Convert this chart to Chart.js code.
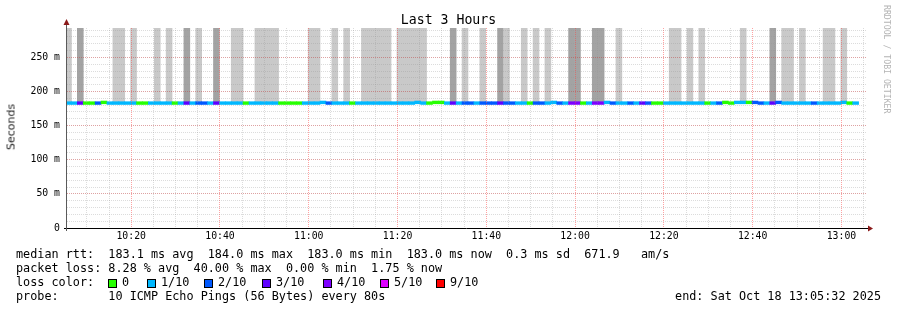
<!DOCTYPE html>
<html>
<head>
<meta charset="utf-8">
<script src="https://cdn.jsdelivr.net/npm/chart.js@4"></script>
<style>
  body { margin: 0; background: #fff; }
  #wrap { position: relative; width: 897px; height: 310px; overflow: hidden; font-family: "DejaVu Sans Mono", monospace; color: #000; }
  canvas { position: absolute; left: 0; top: 0; }
  .t { position: absolute; white-space: pre; }
  .leg { font-size: 11.8px; line-height: 14px; left: 16px; }
  .box { position: absolute; top: 279px; width: 7px; height: 7px; border: 1px solid #000; }
</style>
</head>
<body>
<div id="wrap">
  <canvas id="chart" width="897" height="310"></canvas>
  <div class="t" style="left:0;width:897px;text-align:center;top:12px;font-size:13.2px;line-height:16px">Last 3 Hours</div>
  <div class="t" style="left:11px;top:127px;transform:translate(-50%,-50%) rotate(-90deg);font-family:'DejaVu Sans',sans-serif;font-size:11px;line-height:13px;color:#222">Seconds</div>
  <div class="t" style="left:882px;top:5px;writing-mode:vertical-rl;font-size:8.2px;line-height:10px;color:#b4b4b4">RRDTOOL / TOBI OETIKER</div>
  <div class="t leg" id="rtt" style="top:247px"></div>
  <div class="t leg" id="loss" style="top:261px"></div>
  <div class="t leg" style="top:275px">loss color:</div>
  <div id="colors"></div>
  <div class="t leg" id="probe" style="top:289px"></div>
  <div class="t leg" id="end" style="top:289px;left:auto;right:16px"></div>
</div>
<script>
// time window of the graph and the sample grid
const windowStart = '10:05:32';
const windowEnd = '13:05:32';
const firstSample = '10:05:52';
const stepSec = 80;

const timeLabels = ['10:20', '10:40', '11:00', '11:20', '11:40', '12:00', '12:20', '12:40', '13:00'];
const yLabels = ['0', '50 m', '100 m', '150 m', '200 m', '250 m'];

// median rtt per sample (ms)
const medianMs = [
  183, 183, 183, 183, 183, 183, 184, 183, 183, 183,
  183, 183, 183, 183, 183, 183, 183, 183, 183, 183,
  183, 183, 183, 183, 183, 183, 183, 183, 183, 183,
  183, 183, 183, 183, 183, 183, 183, 183, 183, 183,
  183, 183, 183, 184, 183, 183, 183, 183, 183, 183,
  183, 183, 183, 183, 183, 183, 183, 183, 183, 184,
  183, 183, 184, 184, 183, 183, 183, 183, 183, 183,
  183, 183, 183, 183, 183, 183, 183, 183, 183, 183,
  183, 183, 184, 183, 183, 183, 183, 183, 183, 183,
  183, 184, 183, 183, 183, 183, 183, 183, 183, 183,
  183, 183, 183, 183, 183, 183, 183, 183, 183, 183,
  183, 184, 183, 184, 184, 184, 184, 183, 183, 183,
  184, 183, 183, 183, 183, 183, 183, 183, 183, 183,
  183, 184, 183, 183
];

// lost pings out of 10 per sample
const lossTenths = [
  1, 1, 3, 0, 0, 2, 0, 1, 1, 1,
  1, 1, 0, 0, 1, 1, 1, 1, 0, 1,
  3, 1, 2, 2, 1, 3, 1, 1, 1, 1,
  0, 1, 1, 1, 1, 1, 0, 0, 0, 0,
  1, 1, 1, 1, 2, 1, 1, 1, 0, 1,
  1, 1, 1, 1, 1, 1, 1, 1, 1, 1,
  1, 0, 0, 0, 1, 3, 1, 2, 2, 1,
  2, 2, 2, 3, 2, 2, 1, 1, 0, 2,
  2, 1, 1, 2, 1, 4, 4, 0, 1, 4,
  4, 1, 2, 1, 1, 2, 1, 3, 2, 0,
  0, 1, 1, 1, 1, 1, 1, 1, 0, 1,
  2, 0, 0, 1, 1, 0, 2, 2, 1, 3,
  2, 1, 1, 1, 1, 1, 2, 1, 1, 1,
  1, 1, 0, 1
];

// smoke per sample: 0 none, 1 light, 2 dark
const smokeShade = [
  1, 0, 2, 0, 0, 0, 0, 0, 1, 1,
  0, 1, 0, 0, 0, 1, 0, 1, 0, 0,
  2, 0, 1, 0, 0, 2, 0, 0, 1, 1,
  0, 0, 1, 1, 1, 1, 0, 0, 0, 0,
  0, 1, 1, 0, 0, 1, 0, 1, 0, 0,
  1, 1, 1, 1, 1, 0, 1, 1, 1, 1,
  1, 0, 0, 0, 0, 2, 0, 1, 0, 0,
  1, 0, 0, 2, 1, 0, 0, 1, 0, 1,
  0, 1, 0, 0, 0, 2, 2, 0, 0, 2,
  2, 0, 0, 1, 0, 0, 0, 0, 0, 0,
  0, 0, 1, 1, 0, 1, 0, 1, 0, 0,
  0, 0, 0, 0, 1, 0, 0, 0, 0, 2,
  0, 1, 1, 0, 1, 0, 0, 0, 1, 1,
  0, 1, 0, 0
];
const smokeLow = 184;
const smokeHigh = 293;

const lossLabels = ['0', '1/10', '2/10', '3/10', '4/10', '5/10', '9/10'];
const lossSteps = [0, 1, 2, 3, 4, 5, 9];
const lossColors = ['#26ff00', '#00b8ff', '#0059ff', '#5e00ff', '#7e00ff', '#dd00ff', '#ff0000'];
const smokeColors = [null, '#c9c9c9', '#a3a3a3'];

const rttStats = ['183.1 ms avg', '184.0 ms max', '183.0 ms min', '183.0 ms now', '0.3 ms sd', '671.9   am/s'];
const lossStats = ['8.28 % avg', '40.00 % max', '0.00 % min', '1.75 % now'];
const probeText = '10 ICMP Echo Pings (56 Bytes) every 80s';
const endText = 'end: Sat Oct 18 13:05:32 2025';

// legend text first, so it shows even if the chart fails
document.getElementById('rtt').textContent = 'median rtt:  ' + rttStats.join('  ');
document.getElementById('loss').textContent = 'packet loss: ' + lossStats.join('  ');
document.getElementById('probe').textContent = 'probe:       ' + probeText;
document.getElementById('end').textContent = endText;

// x of each swatch label in the loss colour row
const swatchTextX = [122, 161, 218, 276, 337, 394, 450];
const colorsRow = document.getElementById('colors');
lossLabels.forEach((l, i) => {
  const b = document.createElement('div');
  b.className = 'box';
  b.style.left = (swatchTextX[i] - 14) + 'px';
  b.style.background = lossColors[i];
  const t = document.createElement('div');
  t.className = 't leg';
  t.style.top = '275px';
  t.style.left = swatchTextX[i] + 'px';
  t.textContent = l;
  colorsRow.append(b, t);
});

const secOf = s => { const p = s.split(':').map(Number); return p[0] * 3600 + p[1] * 60 + (p[2] || 0); };
const START = secOf(windowStart);
const END = secOf(windowEnd);
const T0 = secOf(firstSample);
const Y_MAX = 293;
const LINE_HALF = 2.0;

const labelAt = {};
timeLabels.forEach(l => { labelAt[secOf(l)] = l; });

const lossColor = n => lossColors[lossSteps.indexOf(n)];

const medianData = medianMs.map((m, i) => ({ x: T0 + i * stepSec, y: [m - LINE_HALF, m + LINE_HALF] }));
const medianColors = lossTenths.map(lossColor);
const smokeIdx = smokeShade.map((s, i) => s ? i : -1).filter(i => i >= 0);
const smokeData = smokeIdx.map(i => ({ x: T0 + i * stepSec, y: [smokeLow, smokeHigh] }));
const smokeCols = smokeIdx.map(i => smokeColors[smokeShade[i]]);

const axesPlugin = {
  id: 'rrdAxes',
  afterDraw(chart) {
    const { ctx, chartArea: a } = chart;
    ctx.save();
    ctx.lineWidth = 1;
    ctx.strokeStyle = '#000';
    ctx.beginPath();
    ctx.moveTo(a.left - 3, a.bottom + 0.5);
    ctx.lineTo(a.right + 3, a.bottom + 0.5);
    ctx.stroke();
    ctx.strokeStyle = '#5a5a5a';
    ctx.beginPath();
    ctx.moveTo(a.left - 0.5, a.bottom + 3);
    ctx.lineTo(a.left - 0.5, a.top - 5);
    ctx.stroke();
    ctx.fillStyle = '#8b1a1a';
    ctx.beginPath();
    ctx.moveTo(a.left - 0.5, a.top - 9);
    ctx.lineTo(a.left - 3.5, a.top - 3);
    ctx.lineTo(a.left + 2.5, a.top - 3);
    ctx.closePath();
    ctx.fill();
    ctx.beginPath();
    ctx.moveTo(a.right + 7, a.bottom + 0.5);
    ctx.lineTo(a.right + 2, a.bottom - 2.5);
    ctx.lineTo(a.right + 2, a.bottom + 3.5);
    ctx.closePath();
    ctx.fill();
    ctx.restore();
  }
};

const tickFont = { family: 'DejaVu Sans Mono', size: 9.8 };
const minorGrid = 'rgba(150,150,150,0.33)';
const tickVal = c => (c && c.tick ? c.tick.value : NaN);

new Chart(document.getElementById('chart'), {
  type: 'bar',
  data: {
    datasets: [
      { data: medianData, backgroundColor: medianColors, grouped: false, order: 0,
        barPercentage: 1, categoryPercentage: 1, borderWidth: 0 },
      { data: smokeData, backgroundColor: smokeCols, grouped: false, order: 1,
        barPercentage: 1, categoryPercentage: 1, borderWidth: 0 }
    ]
  },
  options: {
    responsive: false,
    animation: false,
    devicePixelRatio: 1,
    layout: { padding: { top: 28, right: 31, left: 0, bottom: 0 } },
    plugins: { legend: { display: false }, tooltip: { enabled: false }, title: { display: false } },
    scales: {
      x: {
        type: 'linear',
        offset: false,
        min: START,
        max: END,
        afterBuildTicks: s => {
          const ticks = [];
          for (let v = Math.ceil(START / 300) * 300; v <= END; v += 300) ticks.push({ value: v });
          s.ticks = ticks;
        },
        afterFit: s => { s.height = 82; s.paddingLeft = 0; s.paddingRight = 0; },
        ticks: {
          autoSkip: false, maxRotation: 0, padding: 3, color: '#000', font: tickFont,
          callback: v => labelAt[v] || ''
        },
        grid: {
          z: 1, drawTicks: false, offset: false,
          color: c => labelAt[tickVal(c)] ? 'rgba(255,70,70,0.5)' : minorGrid
        },
        border: { display: false, dash: [1, 1] }
      },
      y: {
        min: 0,
        max: Y_MAX,
        afterBuildTicks: s => {
          const ticks = [];
          for (let v = 0; v < Y_MAX; v += 10) ticks.push({ value: v });
          s.ticks = ticks;
        },
        afterFit: s => { s.width = 67; s.paddingTop = 0; s.paddingBottom = 0; },
        ticks: {
          autoSkip: false, padding: 7, color: '#000', font: tickFont,
          callback: v => v % 50 === 0 ? yLabels[v / 50] : ''
        },
        grid: {
          z: 1, drawTicks: false,
          color: c => {
            const v = tickVal(c);
            if (v === 0) return 'rgba(0,0,0,0)';
            return v % 50 === 0 ? 'rgba(190,70,70,0.5)' : minorGrid;
          }
        },
        border: { display: false, dash: [1, 1] }
      }
    }
  },
  plugins: [axesPlugin]
});
</script>
</body>
</html>
